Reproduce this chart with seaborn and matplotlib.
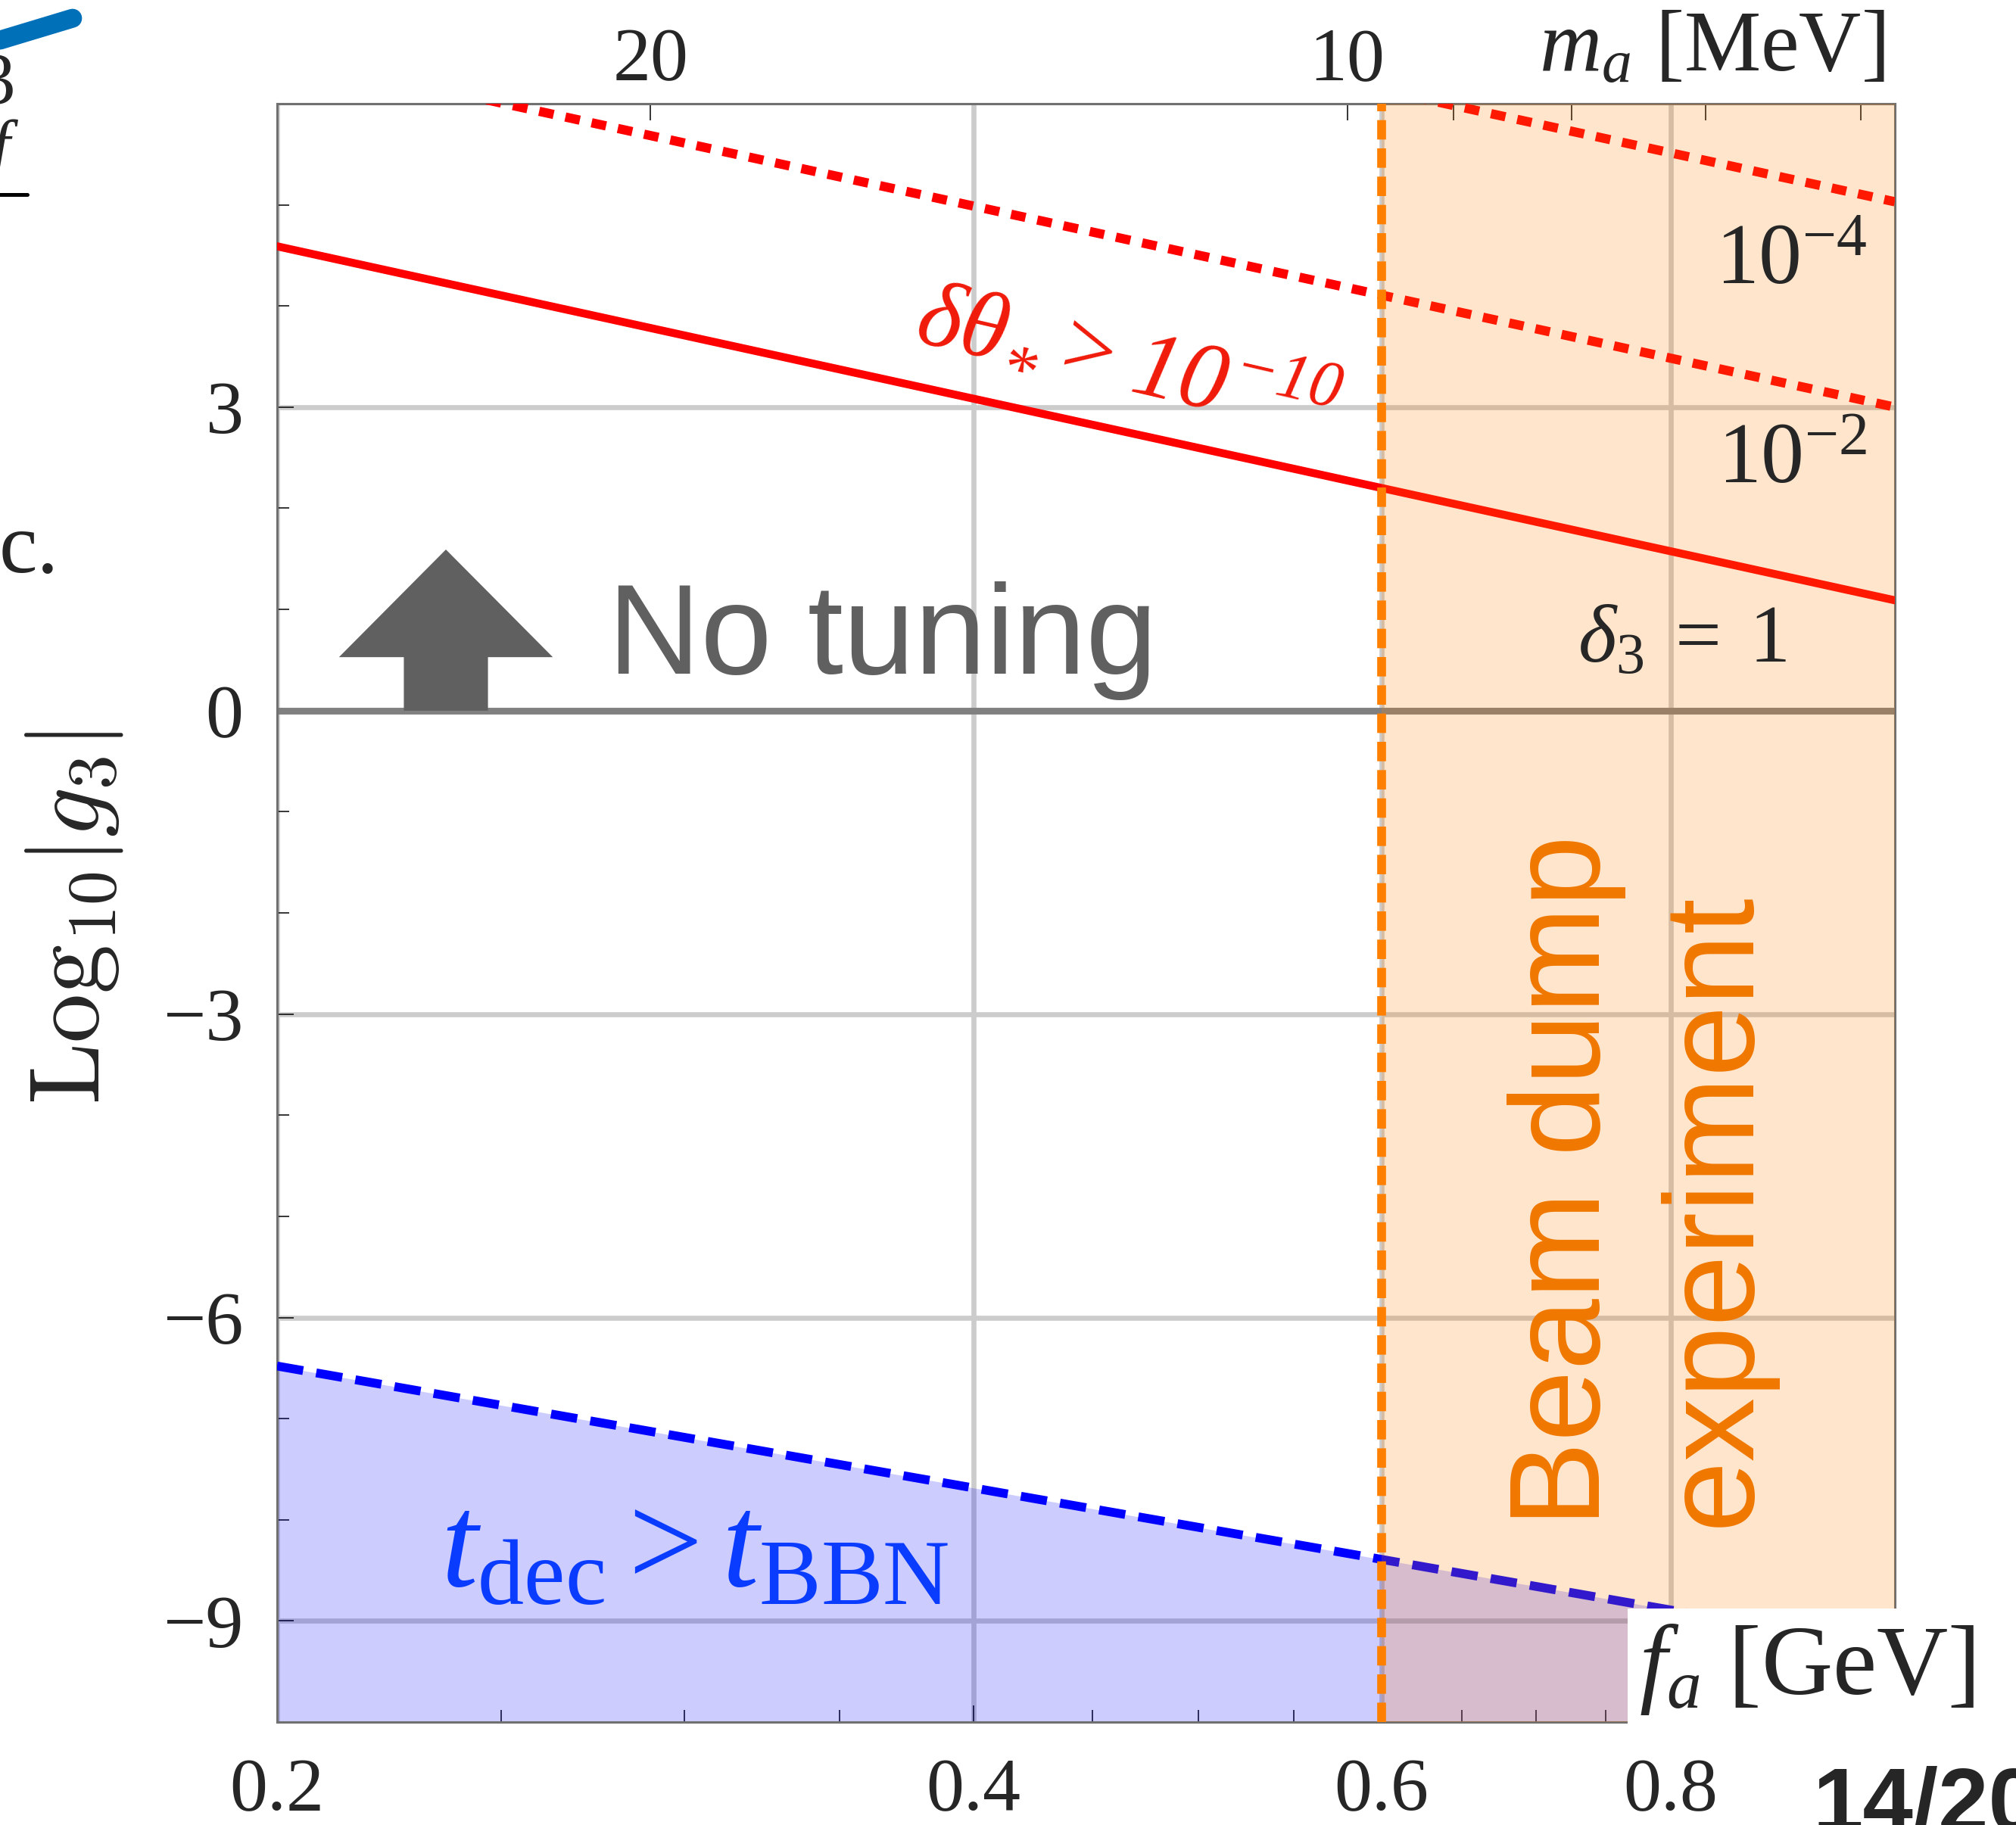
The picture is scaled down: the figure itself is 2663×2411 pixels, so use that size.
import numpy as np
import matplotlib
matplotlib.use("Agg")
import matplotlib.pyplot as plt
import seaborn as sns
from matplotlib.patches import FancyArrow, Rectangle
from matplotlib.lines import Line2D
from matplotlib.ticker import NullFormatter
from matplotlib.font_manager import FontProperties

# --- data ------------------------------------------------------------------
# f_a [GeV] at the two ends of each (straight, log-log) line
fa_ends = [0.2, 1.0]
# Log10|g3| at those ends
logg_delta3_1 = [4.59, 1.09]      # solid red, delta_3 = 1
logg_delta3_1e2 = [6.49, 3.00]    # dotted red, 10^-2
logg_delta3_1e4 = [8.52, 5.03]    # dotted red, 10^-4
logg_bbn = [-6.48, -9.28]         # blue dashed, t_dec > t_BBN
fa_beam_dump = 0.6                # beam dump bound on f_a
ma_times_fa = 5.8                 # m_a [MeV] * f_a [GeV]

fa_lim = (0.2, 1.0)
logg_lim = (-10, 6)
fa_major = [0.2, 0.4, 0.6, 0.8]
fa_major_labels = ["0.2", "0.4", "0.6", "0.8"]
fa_minor = [0.25, 0.3, 0.35, 0.45, 0.5, 0.55, 0.65, 0.7, 0.75, 0.85, 0.9, 0.95]
ma_major = [20, 10]
ma_major_labels = ["20", "10"]
ma_minor = [6, 7, 8, 9]
logg_major = [-9, -6, -3, 0, 3]
logg_major_labels = ["\u22129", "\u22126", "\u22123", "0", "3"]
logg_minor = list(range(-10, 7))

# rotated red label, split in pieces: (text, size, rise pt, gap before pt)
theta_label_pieces = [
    ("\u03b4\u03b8", 45, 0, 0),
    ("*", 33, -13, 0),
    (">", 45, 0, 8),
    ("10", 45, 0, 7),
    ("\u221210", 31, 14, 2),
]


def fa_to_ma(f):
    f = np.asarray(f, dtype=float)
    with np.errstate(divide="ignore", invalid="ignore"):
        return ma_times_fa / f


def text_along(ax, xy, pieces, angle, color):
    """Write italic pieces one after another along a rotated baseline."""
    renderer = ax.figure.canvas.get_renderer()
    ca, sa = np.cos(np.radians(angle)), np.sin(np.radians(angle))
    adv = 0.0
    for s, size, rise, gap in pieces:
        adv += gap
        prop = FontProperties(family="Liberation Serif", style="italic", size=size)
        ax.annotate(s, xy=xy, xycoords="axes fraction",
                    xytext=(adv * ca - rise * sa, adv * sa + rise * ca),
                    textcoords="offset points", rotation=angle,
                    rotation_mode="anchor", ha="left", va="baseline",
                    fontproperties=prop, color=color, zorder=6)
        w, _, _ = renderer.get_text_width_height_descent(s, prop, ismath=False)
        adv += w * 72 / ax.figure.dpi


def make_chart():
    sns.set_theme(style="white")
    plt.rcParams["font.family"] = ["Liberation Serif", "DejaVu Serif"]
    plt.rcParams["mathtext.fontset"] = "custom"
    plt.rcParams["mathtext.rm"] = "Liberation Serif"
    plt.rcParams["mathtext.it"] = "Liberation Serif:italic"
    plt.rcParams["mathtext.bf"] = "Liberation Serif:bold"
    plt.rcParams["mathtext.fallback"] = "stix"

    fig = plt.figure(figsize=(2663 / 200, 2411 / 200), dpi=200)
    fig.patch.set_facecolor("white")
    ax = fig.add_axes([0.1374, 0.0564, 0.8025, 0.8868])
    ax.set_xscale("log")
    ax.set_xlim(*fa_lim)
    ax.set_ylim(*logg_lim)

    # grid and frame
    ax.set_axisbelow(True)
    ax.grid(True, which="major", color="#cccccc", linewidth=2.4)
    for side in ax.spines:
        ax.spines[side].set_color("#707070")
        ax.spines[side].set_linewidth(1.1)

    # BBN excluded region
    ax.fill_between(fa_ends, logg_bbn, logg_lim[0], color="#0000ff",
                    alpha=0.2, linewidth=0, zorder=1)
    ax.axhline(0, color="#808080", linewidth=3.2, zorder=2)

    sns.lineplot(x=fa_ends, y=logg_delta3_1, ax=ax, color="#ff0000",
                 linewidth=3.8, zorder=3)
    sns.lineplot(x=fa_ends, y=logg_delta3_1e2, ax=ax, color="#ff0000",
                 linewidth=4.4, linestyle=(0, (1.6, 1.3)), zorder=3)
    sns.lineplot(x=fa_ends, y=logg_delta3_1e4, ax=ax, color="#ff0000",
                 linewidth=4.4, linestyle=(0, (1.6, 1.3)), zorder=3)
    sns.lineplot(x=fa_ends, y=logg_bbn, ax=ax, color="#0000ff",
                 linewidth=4.2, linestyle=(0, (3.0, 1.5)), zorder=3)

    # beam dump region
    ax.axvspan(fa_beam_dump, fa_lim[1], color="#ff8000", alpha=0.2,
               linewidth=0, zorder=4)
    ax.axvline(fa_beam_dump, color="#ff8000", linewidth=4.2,
               linestyle=(0, (2.2, 1.0)), zorder=5)

    # ticks
    ax.set_xticks(fa_major, labels=fa_major_labels)
    ax.set_xticks(fa_minor, minor=True)
    ax.xaxis.set_minor_formatter(NullFormatter())
    ax.set_yticks(logg_major, labels=logg_major_labels)
    ax.set_yticks(logg_minor, minor=True)
    ax.tick_params(axis="x", which="both", bottom=True, top=False,
                   direction="in", color="black", width=0.55)
    ax.tick_params(axis="y", which="both", left=True, right=False,
                   direction="in", color="black", width=0.55)
    ax.tick_params(axis="x", which="major", length=8, pad=17, labelsize=36)
    ax.tick_params(axis="y", which="major", length=8, pad=16, labelsize=36)
    ax.tick_params(which="minor", length=5.6)

    sec = ax.secondary_xaxis("top", functions=(fa_to_ma, fa_to_ma))
    sec.set_xticks(ma_major, labels=ma_major_labels)
    sec.set_xticks(ma_minor, minor=True)
    sec.xaxis.set_minor_formatter(NullFormatter())
    sec.tick_params(which="both", direction="in", color="black", width=0.55,
                    length=8, pad=4, labelsize=36)
    sec.spines["top"].set_color("#707070")
    sec.spines["top"].set_linewidth(1.1)

    # axis labels
    ax.set_ylabel(r"$\mathrm{Log}_{10}|g_3|$", fontsize=47, math_fontfamily="cm")
    ax.yaxis.set_label_coords(-0.094, 0.497)
    ax.text(0.9939, 1.0201, r"$m_a$ [MeV]", transform=ax.transAxes,
            fontsize=41, ha="right", va="baseline", clip_on=False)
    ax.add_patch(Rectangle((0.8348, -0.01), 0.3, 0.0802, transform=ax.transAxes,
                           facecolor="white", edgecolor="none", clip_on=False,
                           zorder=10))
    ax.text(0.8418, 0.0173, r"$f_a$ [GeV]", transform=ax.transAxes,
            fontsize=47, ha="left", va="baseline", clip_on=False, zorder=11)

    # annotations
    text_along(ax, (0.393, 0.853), theta_label_pieces, -13, "#f01a0a")
    ax.text(0.983, 0.8887, r"$10^{-4}$", transform=ax.transAxes,
            fontsize=41, ha="right", va="baseline", zorder=6)
    ax.text(0.983, 0.7657, r"$10^{-2}$", transform=ax.transAxes,
            fontsize=41, ha="right", va="baseline", zorder=6)
    ax.text(0.8686, 0.6548, r"$\delta_3\;=\;1$", transform=ax.transAxes,
            fontsize=39, ha="center", va="baseline", zorder=6)
    ax.add_patch(FancyArrow(0.1044, 0.6249, 0, 0.0996, width=0.052,
                            head_width=0.1322, head_length=0.0665,
                            length_includes_head=True, transform=ax.transAxes,
                            color="#606060", linewidth=0, zorder=3))
    ax.text(0.2045, 0.6478, "No tuning", transform=ax.transAxes,
            family="Liberation Sans", fontsize=61, color="#606060",
            ha="left", va="baseline", zorder=6)
    for x, word in [(0.8175, "Beam dump"), (0.9097, "experiment")]:
        ax.text(x, 0.1207, word, transform=ax.transAxes, rotation=90,
                rotation_mode="anchor", ha="left", va="baseline",
                family="Liberation Sans", fontsize=61, color="#f07800", zorder=6)
    ax.text(0.1011, 0.0842, r"$t_{\mathrm{dec}} > t_{\mathrm{BBN}}$",
            transform=ax.transAxes, fontsize=63, color="#0a3cff",
            ha="left", va="baseline", zorder=6)

    # slide leftovers around the figure
    fig.text(0.899, -0.0033, "14/20", family="Liberation Sans",
             weight="bold", fontsize=43, ha="left", va="baseline")
    fig.text(0.0293, 0.6864, "c.", fontsize=41, ha="right", va="baseline")
    fig.text(0.0075, 0.9432, "3", fontsize=35, ha="right", va="baseline")
    fig.text(0.0095, 0.9080, r"$f$", fontsize=33, ha="right", va="baseline")
    fig.add_artist(Line2D([0, 0.0135], [0.8934, 0.8934], color="black",
                          linewidth=1.8, transform=fig.transFigure))
    fig.add_artist(Line2D([0, 0.036], [0.978, 0.990], color="#0070b8",
                          linewidth=9, solid_capstyle="round",
                          transform=fig.transFigure))

    fig.savefig("out.png", dpi=200, facecolor="white")
    plt.close(fig)


if __name__ == "__main__":
    make_chart()
